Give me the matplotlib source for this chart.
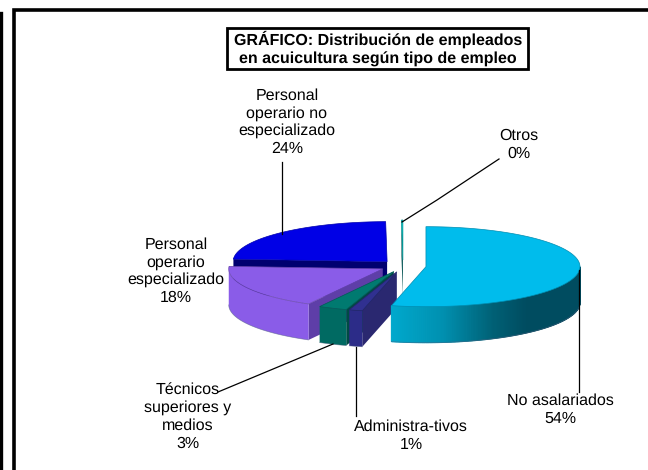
import numpy as np
import matplotlib
matplotlib.use("Agg")
import matplotlib.pyplot as plt
from matplotlib.patches import Polygon, Rectangle

plt.rcParams['font.family'] = ['Liberation Sans', 'DejaVu Sans']
plt.rcParams['text.hinting'] = 'none'
plt.rcParams['text.hinting_factor'] = 1

# Data
categories = ['No asalariados', 'Administra-tivos', 'Técnicos\nsuperiores y\nmedios',
              'Personal\noperario\nespecializado', 'Personal\noperario no\nespecializado', 'Otros']
values = [53.6, 1.4, 3.0, 18.0, 23.85, 0.15]
pct_labels = ['54%', '1%', '3%', '18%', '24%', '0%']

top_colors = ['#00bcec', '#303090', '#007a70', '#8a5ce8', '#0000e6', '#00c8c8']
side_colors = ['#00a8cc', '#2c2c88', '#006a62', '#8a5ce8', '#0000a0', '#007070']
wall_colors = ['#004c60', '#2a2870', '#004a44', '#5e3ea8', '#000070', '#005050']

# pie geometry in pixels
CX, CY = 403, 266
RX, RY = 154, 40
DEPTH = 36
EXPLODE = 0.15

# back to front
draw_order = {4: 2, 5: 3, 3: 4, 2: 5, 1: 6, 0: 7}


def pt(cx, cy, ang):
    # angle clockwise from 12 o'clock, degrees
    a = np.radians(ang)
    return cx + RX * np.sin(a), cy - RY * np.cos(a)


def no_asal_color(x):
    # side of the big slice goes dark towards the right
    g = np.interp(x, [393, 443, 493, 527], [0xa8, 0x90, 0x60, 0x4c]) / 255
    b = np.interp(x, [393, 443, 493, 527], [0xcc, 0xb0, 0x75, 0x60]) / 255
    return (0, g, b)


def draw_slice(ax, i, start, end):
    mid = (start + end) / 2
    cx, cy = pt(CX, CY, mid)
    cx = CX + (cx - CX) * EXPLODE
    cy = CY + (cy - CY) * EXPLODE
    z = draw_order[i]

    # cut wall on the start side
    sx, sy = pt(cx, cy, start)
    ax.add_patch(Polygon([(cx, cy), (sx, sy), (sx, sy + DEPTH), (cx, cy + DEPTH)],
                         fc=wall_colors[i], ec='none', zorder=z))

    # outer wall, only the front half shows
    a0, a1 = max(start, 90), min(end, 270)
    if a1 > a0:
        angs = np.linspace(a0, a1, int(a1 - a0) * 2 + 2)
        upper = [pt(cx, cy, a) for a in angs]
        lower = [(x, y + DEPTH) for x, y in upper]
        if i == 0:
            for k in range(len(angs) - 1):
                c = no_asal_color(upper[k][0])
                ax.add_patch(Polygon([upper[k], upper[k + 1], lower[k + 1], lower[k]],
                                     fc=c, ec=c, lw=0.8, zorder=z))
        else:
            ax.add_patch(Polygon(upper + lower[::-1], fc=side_colors[i], ec='none', zorder=z))
        ax.plot([p[0] for p in lower], [p[1] for p in lower], color='#506080', lw=0.5,
                alpha=0.6, zorder=z + 0.1)

    # top face
    angs = np.linspace(start, end, max(int(end - start) * 2, 2))
    top = [(cx, cy)] + [pt(cx, cy, a) for a in angs]
    edge = tuple(np.array(matplotlib.colors.to_rgb(top_colors[i])) * 0.75)
    ax.add_patch(Polygon(top, fc=top_colors[i], ec=edge, lw=0.5, zorder=z + 0.2))


fig = plt.figure(figsize=(6.48, 4.70), dpi=100)
ax = fig.add_axes([0, 0, 1, 1])
ax.set_xlim(0, 648)
ax.set_ylim(470, 0)
ax.axis('off')

# frame, no right side in the source
ax.plot([14, 14, 648], [470, 9.5, 9.5], color='black', lw=2.6, zorder=1,
        solid_joinstyle='miter')
ax.plot([1, 1], [13, 470], color='black', lw=2.4, zorder=1)

edges = np.cumsum([0] + values) / sum(values) * 360
for i in range(len(values)):
    draw_slice(ax, i, edges[i], edges[i + 1])

# title box
ax.add_patch(Rectangle((227, 28), 301, 41, fc='white', ec='black', lw=2, zorder=10))
ax.text(378, 48.5, 'GRÁFICO: Distribución de empleados\nen acuicultura según tipo de empleo',
        ha='center', va='center', fontsize=11.4, fontweight='bold', linespacing=1.3, zorder=11)

# labels
label_pos = [(560, 410), (411, 436), (188, 416.5), (176, 271), (287, 122), (519, 145)]
for i, (x, y) in enumerate(label_pos):
    ax.text(x, y, categories[i] + '\n' + pct_labels[i], ha='center', va='center',
            fontsize=11.6, linespacing=1.25, zorder=11)

# leader lines
leaders = [
    ([579, 579], [270, 392]),
    ([356, 356], [347, 416]),
    ([333, 218], [344, 392]),
    ([282, 282], [162, 234]),
    ([402, 437, 499], [222, 200, 159]),
]
for xs, ys in leaders:
    ax.plot(xs, ys, color='black', lw=0.9, zorder=9)

fig.savefig('out.png', dpi=100)
